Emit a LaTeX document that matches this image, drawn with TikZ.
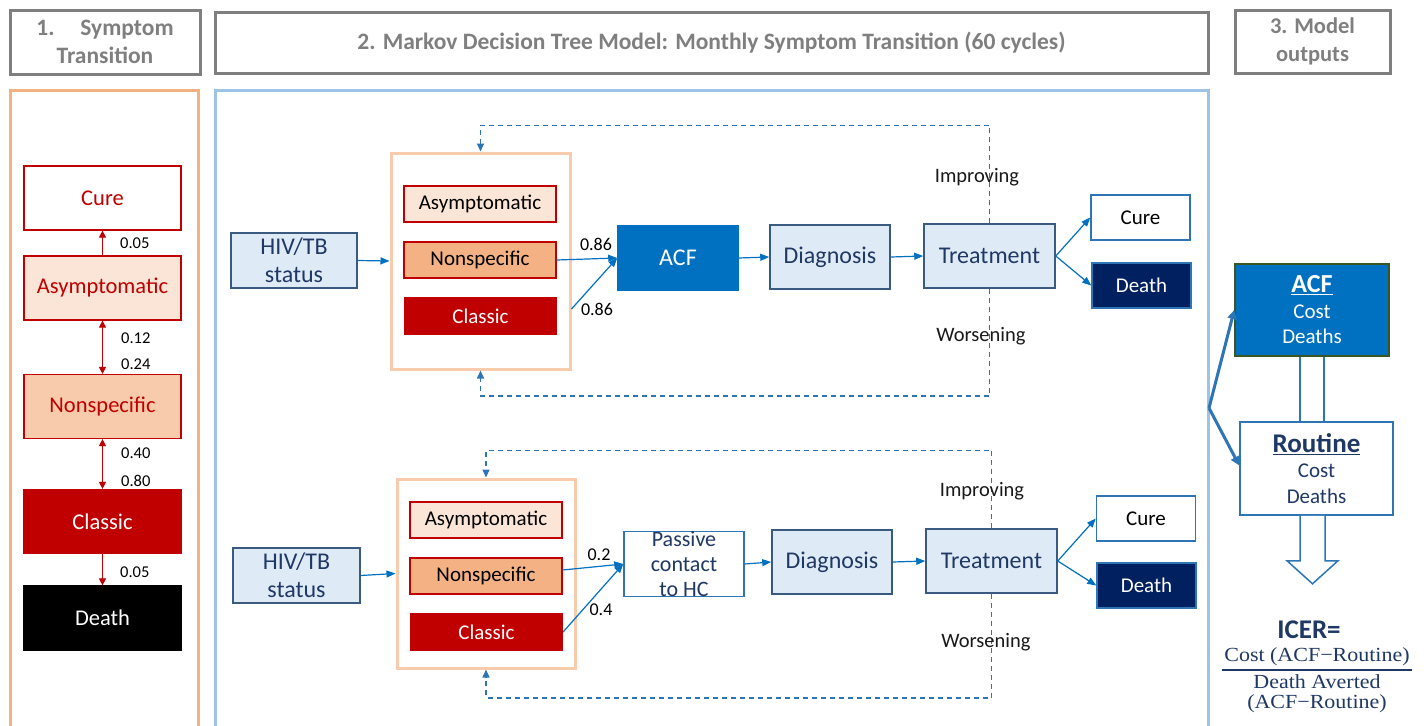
\documentclass[tikz,border=0pt]{standalone}
\usepackage{fontspec}
\setmainfont{Carlito}
\newfontfamily\icerfont[FakeStretch=1.1]{Liberation Serif}
\usetikzlibrary{arrows.meta}
\definecolor{hdrgray}{HTML}{7F7F7F}
\definecolor{peach}{HTML}{F4B183}
\definecolor{peachlight}{HTML}{F8CBAD}
\definecolor{peachpale}{HTML}{FBE5D6}
\definecolor{darkred}{HTML}{C00000}
\definecolor{frameblue}{HTML}{9DC3E6}
\definecolor{boxblue}{HTML}{DEEBF7}
\definecolor{acfblue}{HTML}{0070C0}
\definecolor{navy}{HTML}{002060}
\definecolor{textnavy}{HTML}{1F3864}
\definecolor{edgeblue}{HTML}{2E75B6}
\definecolor{boxedge}{HTML}{3B5A80}
\definecolor{darkgreen}{HTML}{385723}
\tikzset{
  hdr/.style={draw=hdrgray, line width=3pt, fill=white, inner sep=0pt, align=center,
    text=hdrgray, font=\fontsize{23.5}{28}\selectfont\bfseries},
  lbox/.style={draw=darkred, line width=1.2pt, minimum width=157pt, minimum height=64pt,
    inner sep=0pt, font=\fontsize{22.5}{26}\selectfont},
  sbox/.style={draw=darkred, line width=1.2pt, minimum width=152pt, minimum height=36pt,
    inner sep=0pt, font=\fontsize{21}{24}\selectfont},
  container/.style={draw=peachlight, line width=3pt, inner sep=0pt},
  bbox/.style={draw=boxedge, line width=1.5pt, fill=boxblue, inner sep=0pt, align=center,
    text=textnavy, font=\fontsize{24}{28}\selectfont},
  obox/.style={draw=edgeblue, line width=1.5pt, inner sep=0pt, align=center,
    minimum width=99pt, minimum height=45pt, font=\fontsize{21}{24}\selectfont},
  prob/.style={font=\fontsize{16.5}{19}\selectfont, text=black, inner sep=0pt},
  mprob/.style={font=\fontsize{18}{20}\selectfont, text=black, inner sep=0pt},
  lab/.style={font=\fontsize{20.5}{24}\selectfont, text=black!90, inner sep=0pt},
  redarrow/.style={draw=darkred, line width=1pt, -{Triangle[length=7pt,width=7pt]}},
  bluearrow/.style={draw=acfblue, line width=1.2pt, -{Triangle[length=9pt,width=7pt]}},
  dashloop/.style={draw=edgeblue, line width=1.5pt, dash pattern=on 5pt off 4pt,
    -{Triangle[length=8pt,width=7pt]}},
  thickarrow/.style={draw=edgeblue, line width=3pt, -{Triangle[length=9pt,width=9pt]}},
  outbox/.style={line width=1.5pt, inner sep=0pt, align=center,
    minimum width=154pt, minimum height=92pt, font=\fontsize{21}{25.5}\selectfont},
  icertext/.style={font=\icerfont\fontsize{20}{21}\selectfont, text=textnavy, inner sep=0pt, align=center}
}
\begin{document}
\begin{tikzpicture}[x=1pt,y=-1pt]
\useasboundingbox[fill=white] (0,0) rectangle (1428,726);

% frames
\draw[peach, line width=3pt] (10,726) -- (10,90) -- (198,90) -- (198,726);
\draw[frameblue, line width=3pt] (215,726) -- (215,90) -- (1208,90) -- (1208,726);

% headers
\node[hdr, minimum width=190pt, minimum height=64pt] (hdr1) at (105,42) {1.\hspace{1.1em}Symptom\\Transition};
\node[hdr, minimum width=993pt, minimum height=61pt] (hdr2) at (711.5,42.5)
  {2. Markov Decision Tree Model: Monthly Symptom Transition (60 cycles)};
\node[hdr, minimum width=155pt, minimum height=63pt, font=\fontsize{22.5}{28}\selectfont\bfseries] (hdr3) at (1312.5,41.5) {3. Model\\outputs};

% left panel
\node[lbox, fill=white, text=darkred] (lcure) at (102.5,198) {Cure};
\node[lbox, fill=peachpale, text=darkred] (lasym) at (102.5,288) {Asymptomatic};
\node[lbox, fill=peachlight, text=darkred] (lnons) at (102.5,406.5) {Nonspecific};
\node[lbox, fill=darkred, text=white] (lclas) at (102.5,521.5) {Classic};
\node[lbox, fill=black, draw=black, text=white] (ldeath) at (102.5,618) {Death};
\draw[redarrow] (lasym.north) -- (lcure.south);
\draw[redarrow, {Triangle[length=7pt,width=7pt]}-{Triangle[length=7pt,width=7pt]}] (lasym.south) -- (lnons.north);
\draw[redarrow, {Triangle[length=7pt,width=7pt]}-{Triangle[length=7pt,width=7pt]}] (lnons.south) -- (lclas.north);
\draw[redarrow] (lclas.south) -- (ldeath.north);
\node[prob, anchor=west] (p1) at (120,243) {0.05};
\node[prob, anchor=west] (p2) at (121,338) {0.12};
\node[prob, anchor=west] (p3) at (121,364) {0.24};
\node[prob, anchor=west] (p4) at (121,453) {0.40};
\node[prob, anchor=west] (p5) at (121,481) {0.80};
\node[prob, anchor=west] (p6) at (120,572) {0.05};

% ---- top row ----
\node[bbox, minimum width=126pt, minimum height=55pt] (hiv1) at (294,260.5) {HIV/TB\\status};
\node[container, minimum width=179pt, minimum height=216pt] (cont1) at (480.5,261) {};
\node[sbox, fill=peachpale] (asym1) at (480,204) {Asymptomatic};
\node[sbox, fill=peach] (nons1) at (480,260) {Nonspecific};
\node[sbox, fill=darkred, text=white] (clas1) at (480.5,316) {Classic};
\node[bbox, draw=acfblue, fill=acfblue, text=white, minimum width=120pt, minimum height=64pt] (acf1) at (678,258) {ACF};
\node[bbox, minimum width=120pt, minimum height=64pt] (diag1) at (830,257) {Diagnosis};
\node[bbox, minimum width=131pt, minimum height=64pt] (treat1) at (989.5,256) {Treatment};
\node[obox, fill=white, text=black] (cure1) at (1140.5,217.5) {Cure};
\node[obox, fill=navy, text=white] (death1) at (1141.5,285.5) {Death};

\draw[bluearrow] (hiv1.east) -- (cont1.west);
\draw[bluearrow] (nons1.east) -- (acf1.west);
\draw[bluearrow] ([yshift=-48pt]cont1.east) -- (acf1.west);
\draw[bluearrow] (acf1.east) -- (diag1.west);
\draw[bluearrow] (diag1.east) -- (treat1.west);
\draw[bluearrow] (treat1.east) -- (cure1.west);
\draw[bluearrow] (treat1.east) -- (death1.west);
\node[mprob] (q1) at (596,244) {0.86};
\node[mprob] (q2) at (597,309) {0.86};
\draw[dashloop] (treat1.north) -- ++(0,-98) -| (cont1.north);
\draw[dashloop] (treat1.south) -- ++(0,107) -| (cont1.south);
\node[lab] (imp1) at (977,177) {Improving};
\node[lab] (wor1) at (981,336) {Worsening};

% ---- bottom row ----
\node[bbox, minimum width=127pt, minimum height=55pt] (hiv2) at (296.5,575.5) {HIV/TB\\status};
\node[container, minimum width=178pt, minimum height=189pt] (cont2) at (486,573.5) {};
\node[sbox, fill=peachpale] (asym2) at (486,520) {Asymptomatic};
\node[sbox, fill=peach] (nons2) at (486,576) {Nonspecific};
\node[sbox, fill=darkred, text=white] (clas2) at (486.5,632) {Classic};
\node[bbox, draw=edgeblue, fill=white, minimum width=120pt, minimum height=64pt,
  font=\fontsize{22}{25}\selectfont] (pass2) at (684,564) {Passive\\contact\\to HC};
\node[bbox, minimum width=120pt, minimum height=64pt] (diag2) at (832,562) {Diagnosis};
\node[bbox, minimum width=131pt, minimum height=64pt] (treat2) at (991.5,561) {Treatment};
\node[obox, fill=white, text=black] (cure2) at (1146,518.5) {Cure};
\node[obox, fill=navy, text=white] (death2) at (1146.5,585.5) {Death};

\draw[bluearrow] (hiv2.east) -- (cont2.west);
\draw[bluearrow] ([yshift=6pt]nons2.east) -- (pass2.west);
\draw[bluearrow] (clas2.east) -- (pass2.west);
\draw[bluearrow] (pass2.east) -- (diag2.west);
\draw[bluearrow] (diag2.east) -- (treat2.west);
\draw[bluearrow] (treat2.east) -- (cure2.west);
\draw[bluearrow] (treat2.east) -- (death2.west);
\node[mprob] (q3) at (599,555) {0.2};
\node[mprob] (q4) at (601,610) {0.4};
\draw[dashloop] (treat2.north) -- ++(0,-78) -| (cont2.north);
\draw[dashloop] (treat2.south) -- ++(0,104) -| (cont2.south);
\node[lab] (imp2) at (982,491) {Improving};
\node[lab] (wor2) at (986,642) {Worsening};

% ---- right panel ----
\node[outbox, draw=darkgreen, fill=acfblue, text=white] (acfout) at (1312,310)
  {{\fontsize{26}{29}\selectfont\bfseries\underline{ACF}}\\Cost\\Deaths};
\node[outbox, draw=edgeblue, fill=white, text=textnavy, minimum width=153pt, minimum height=93pt] (routout) at (1316.5,468.5)
  {{\fontsize{27}{29}\selectfont\bfseries\underline{Routine}}\\Cost\\Deaths};
\draw[edgeblue, line width=1.5pt] ([xshift=-12pt]acfout.south) -- ([xshift=-16.5pt]routout.north);
\draw[edgeblue, line width=1.5pt] ([xshift=12pt]acfout.south) -- ([xshift=7.5pt]routout.north);
\draw[edgeblue, line width=1.5pt, fill=white, line join=miter]
  ([xshift=-16.5pt]routout.south) -- ++(0,45) -- ++(-13,0) -- ++(25.5,23) -- ++(25.5,-23) -- ++(-13,0) -- ++(0,-45);
\coordinate (jn) at (1209,408);
\draw[thickarrow] (jn) -- (acfout.west);
\draw[thickarrow] (jn) -- ([yshift=3pt]routout.west);

\node[font=\fontsize{27}{30}\selectfont\bfseries, text=textnavy, inner sep=0pt] (icer) at (1309,630) {ICER=};
\node[icertext] (num) at (1317,657) {Cost (ACF−Routine)};
\draw[textnavy, line width=1.3pt] (1222,670) -- (1412,670);
\node[icertext] (den1) at (1317,682) {Death Averted};
\node[icertext] (den2) at (1317,704) {(ACF−Routine)};
\end{tikzpicture}
\end{document}
